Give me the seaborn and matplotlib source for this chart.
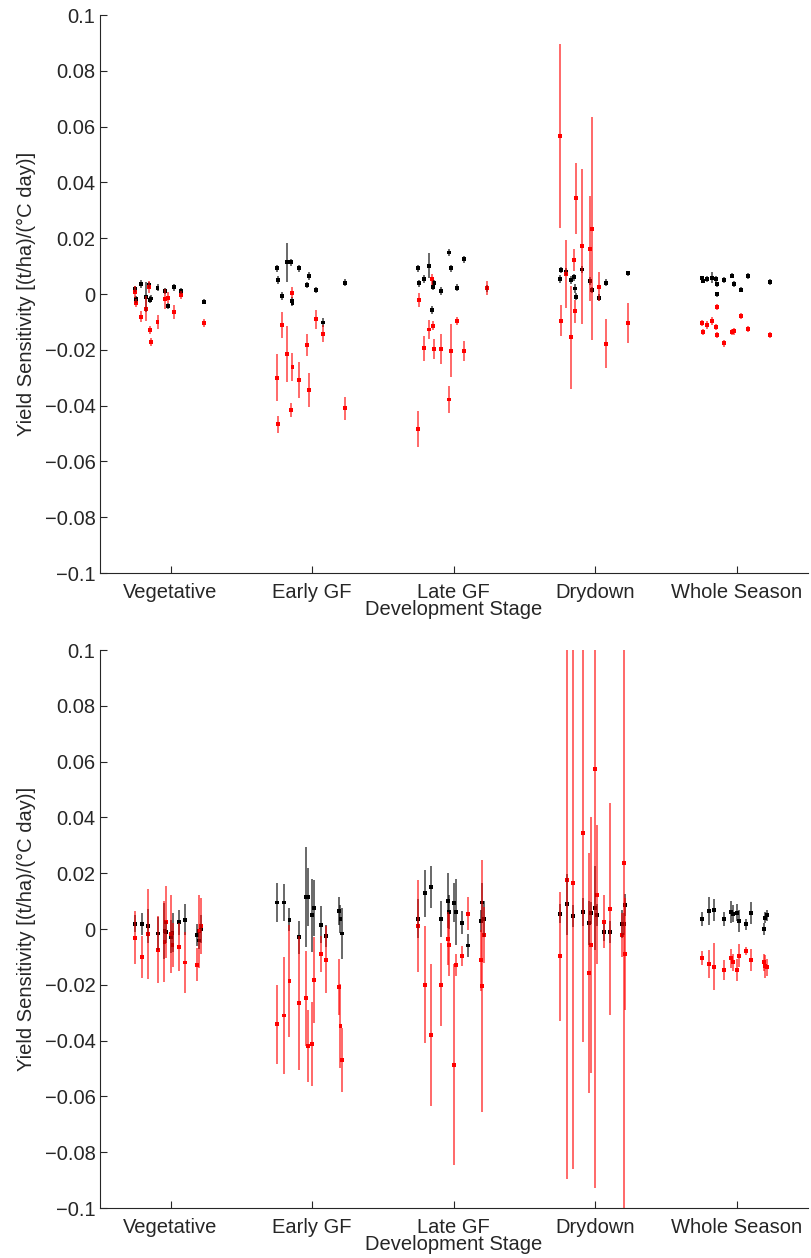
import numpy as np
import pandas as pd
import seaborn as sns
import matplotlib.pyplot as plt

stages = ['Vegetative', 'Early GF', 'Late GF', 'Drydown', 'Whole Season']

# position of each model inside a stage (fraction of the stage spacing)
top_offsets = [-0.25, -0.243, -0.21, -0.175, -0.151, -0.144, -0.139, -0.092, -0.036, -0.021, 0.026, 0.075, 0.233]
bottom_offsets = [-0.25, -0.2, -0.16, -0.09, -0.043, -0.031, 0.0, 0.014, 0.061, 0.101, 0.19, 0.2, 0.212]

# ---- top panel ----
top_black = [
    [0.0018, -0.0019, 0.0035, -0.0010, 0.0032, -0.0020, -0.0016, 0.0023, 0.0011, -0.0043, 0.0024, 0.0011, -0.0027],
    [0.0092, 0.0050, -0.0007, 0.0114, 0.0114, -0.0025, -0.0031, 0.0092, 0.0032, 0.0065, 0.0014, -0.0102, 0.0041],
    [0.0092, 0.0038, 0.0054, 0.0102, -0.0057, 0.0026, 0.0038, 0.0011, 0.0149, 0.0092, 0.0023, 0.0125, 0.0020],
    [0.0053, 0.0086, 0.0080, 0.0050, 0.0060, 0.0020, -0.0010, 0.0088, 0.0047, 0.0014, -0.0013, 0.0041, 0.0074],
    [0.0056, 0.0048, 0.0055, 0.0059, 0.0055, -0.0001, 0.0035, 0.0051, 0.0066, 0.0037, 0.0016, 0.0065, 0.0044],
]
top_black_err = [
    [0.0012, 0.0012, 0.0015, 0.0055, 0.0012, 0.0012, 0.0012, 0.0012, 0.0012, 0.0012, 0.0012, 0.0012, 0.0010],
    [0.0013, 0.0015, 0.0015, 0.0070, 0.0012, 0.0015, 0.0012, 0.0012, 0.0012, 0.0013, 0.0012, 0.0015, 0.0013],
    [0.0013, 0.0013, 0.0013, 0.0045, 0.0015, 0.0013, 0.0013, 0.0013, 0.0012, 0.0013, 0.0013, 0.0012, 0.0012],
    [0.0015, 0.0012, 0.0012, 0.0015, 0.0012, 0.0015, 0.0012, 0.0012, 0.0015, 0.0012, 0.0012, 0.0012, 0.0010],
    [0.0010, 0.0010, 0.0010, 0.0020, 0.0010, 0.0010, 0.0010, 0.0010, 0.0010, 0.0010, 0.0010, 0.0010, 0.0010],
]
top_red = [
    [0.0008, -0.0033, -0.0081, -0.0052, 0.0024, -0.0129, -0.0171, -0.0100, -0.0018, -0.0013, -0.0065, -0.0004, -0.0103],
    [-0.0300, -0.0467, -0.0110, -0.0215, -0.0416, 0.0005, -0.0260, -0.0308, -0.0183, -0.0344, -0.0091, -0.0142, -0.0410],
    [-0.0485, -0.0022, -0.0195, -0.0127, 0.0053, -0.0113, -0.0197, -0.0197, -0.0378, -0.0203, -0.0096, -0.0204, 0.0022],
    [0.0566, -0.0095, 0.0072, -0.0155, 0.0122, -0.0062, 0.0343, 0.0172, 0.0162, 0.0234, 0.0026, -0.0178, -0.0103],
    [-0.0104, -0.0137, -0.0112, -0.0097, -0.0119, -0.0047, -0.0146, -0.0177, -0.0135, -0.0133, -0.0079, -0.0125, -0.0146],
]
top_red_err = [
    [0.0022, 0.0015, 0.0020, 0.0045, 0.0022, 0.0015, 0.0015, 0.0025, 0.0035, 0.0020, 0.0025, 0.0015, 0.0015],
    [0.0085, 0.0030, 0.0047, 0.0100, 0.0025, 0.0020, 0.0050, 0.0063, 0.0040, 0.0060, 0.0035, 0.0030, 0.0040],
    [0.0065, 0.0025, 0.0045, 0.0035, 0.0020, 0.0015, 0.0035, 0.0055, 0.0050, 0.0095, 0.0015, 0.0037, 0.0025],
    [0.0330, 0.0055, 0.0123, 0.0185, 0.0040, 0.0040, 0.0127, 0.0278, 0.0188, 0.0400, 0.0052, 0.0087, 0.0072],
    [0.0010, 0.0010, 0.0015, 0.0015, 0.0010, 0.0010, 0.0010, 0.0012, 0.0010, 0.0012, 0.0012, 0.0010, 0.0010],
]

# ---- bottom panel ----
bottom_black = [
    [0.0019, 0.0018, 0.0011, -0.0016, -0.0006, -0.0010, -0.0027, -0.0014, 0.0025, 0.0034, -0.0022, -0.0041, 0.0001],
    [0.0095, 0.0095, 0.0034, -0.0030, 0.0115, 0.0115, 0.0049, 0.0076, 0.0016, -0.0025, 0.0066, 0.0035, -0.0016],
    [0.0037, 0.0128, 0.0150, 0.0037, 0.0102, 0.0061, 0.0094, 0.0061, 0.0023, -0.0059, 0.0028, 0.0095, 0.0036],
    [0.0055, 0.0089, 0.0047, 0.0061, 0.0022, 0.0057, 0.0076, 0.0050, -0.0012, -0.0010, 0.0019, 0.0017, 0.0086],
    [0.0037, 0.0066, 0.0069, 0.0037, 0.0061, 0.0055, 0.0058, 0.0029, 0.0017, 0.0058, 0.0000, 0.0040, 0.0049],
]
bottom_black_err = [
    [0.0030, 0.0040, 0.0060, 0.0060, 0.0100, 0.0040, 0.0060, 0.0070, 0.0045, 0.0055, 0.0040, 0.0030, 0.0050],
    [0.0070, 0.0065, 0.0040, 0.0060, 0.0180, 0.0105, 0.0130, 0.0100, 0.0065, 0.0040, 0.0050, 0.0050, 0.0090],
    [0.0070, 0.0085, 0.0075, 0.0065, 0.0100, 0.0060, 0.0070, 0.0120, 0.0040, 0.0040, 0.0040, 0.0070, 0.0065],
    [0.0035, 0.0110, 0.0040, 0.0050, 0.0080, 0.0040, 0.0150, 0.0040, 0.0030, 0.0040, 0.0050, 0.0040, 0.0040],
    [0.0025, 0.0050, 0.0040, 0.0025, 0.0040, 0.0030, 0.0030, 0.0040, 0.0020, 0.0040, 0.0020, 0.0020, 0.0020],
]
bottom_red = [
    [-0.0031, -0.0099, -0.0018, -0.0074, -0.0046, 0.0025, -0.0018, -0.0057, -0.0064, -0.0120, -0.0128, -0.0008, 0.0011],
    [-0.0342, -0.0310, -0.0186, -0.0264, -0.0248, -0.0420, -0.0412, -0.0183, -0.0090, -0.0110, -0.0207, -0.0347, -0.0470],
    [0.0011, -0.0200, -0.0380, -0.0199, -0.0035, -0.0057, -0.0487, -0.0128, -0.0096, 0.0055, -0.0112, -0.0204, -0.0022],
    [-0.0098, 0.0175, 0.0165, 0.0345, -0.0157, -0.0057, 0.0572, 0.0123, 0.0026, 0.0072, -0.0022, 0.0237, -0.0089],
    [-0.0105, -0.0125, -0.0135, -0.0147, -0.0105, -0.0119, -0.0147, -0.0095, -0.0078, -0.0112, -0.0119, -0.0134, -0.0137],
]
bottom_red_err = [
    [0.0095, 0.0075, 0.0160, 0.0120, 0.0145, 0.0130, 0.0140, 0.0080, 0.0085, 0.0110, 0.0060, 0.0130, 0.0100],
    [0.0140, 0.0210, 0.0200, 0.0240, 0.0170, 0.0130, 0.0150, 0.0155, 0.0065, 0.0120, 0.0100, 0.0150, 0.0115],
    [0.0165, 0.0210, 0.0255, 0.0150, 0.0095, 0.0110, 0.0360, 0.0040, 0.0035, 0.0060, 0.0110, 0.0450, 0.0100],
    [0.0230, 0.1070, 0.1025, 0.0750, 0.0430, 0.0460, 0.1500, 0.0250, 0.0095, 0.0380, 0.0080, 0.1300, 0.0200],
    [0.0025, 0.0050, 0.0085, 0.0035, 0.0035, 0.0030, 0.0040, 0.0040, 0.0015, 0.0040, 0.0030, 0.0040, 0.0030],
]

yticks = [0.1, 0.08, 0.06, 0.04, 0.02, 0, -0.02, -0.04, -0.06, -0.08, -0.1]


def build_frame(offsets, black, black_err, red, red_err):
    rows = []
    for series, vals, errs in [('black', black, black_err), ('red', red, red_err)]:
        for i in range(len(stages)):
            for j, off in enumerate(offsets):
                rows.append({'series': series, 'x': i + 1 + off,
                             'value': vals[i][j], 'err': errs[i][j]})
    return pd.DataFrame(rows)


sns.set_style('ticks')
plt.rcParams['font.family'] = ['Liberation Sans', 'DejaVu Sans']
plt.rcParams['xtick.direction'] = 'in'
plt.rcParams['ytick.direction'] = 'in'

fig = plt.figure(figsize=(8.11, 12.58), dpi=100)
ax_top = fig.add_axes([0.123, 0.5445, 0.873, 0.4435])
ax_bot = fig.add_axes([0.123, 0.0397, 0.873, 0.4436])

panels = [
    (ax_top, build_frame(top_offsets, top_black, top_black_err, top_red, top_red_err)),
    (ax_bot, build_frame(bottom_offsets, bottom_black, bottom_black_err, bottom_red, bottom_red_err)),
]

colors = {'black': 'black', 'red': 'red'}
fs = 14.5
for ax, df in panels:
    for series in ['black', 'red']:
        d = df[df['series'] == series]
        ax.vlines(d['x'], d['value'] - d['err'], d['value'] + d['err'],
                  color=colors[series], lw=1.1, alpha=0.75)
    sns.scatterplot(data=df, x='x', y='value', hue='series', palette=colors,
                    marker='s', s=8, edgecolor='none', legend=False, ax=ax)
    ax.set_xlim(0.5, 5.5)
    ax.set_ylim(-0.1, 0.1)
    ax.set_xticks(range(1, 6))
    ax.set_xticklabels(stages)
    ax.set_yticks(yticks)
    ax.set_yticklabels([f'{t:g}'.replace('-', '\u2212') for t in yticks])
    ax.tick_params(labelsize=fs, length=5, width=0.8)
    ax.tick_params(axis='x', pad=7)
    ax.tick_params(axis='y', pad=3)
    ax.set_xlabel('Development Stage', fontsize=fs, labelpad=-1)
    ax.set_ylabel('Yield Sensitivity [(t/ha)/(\u00b0C day)]', fontsize=fs, labelpad=6)
    sns.despine(ax=ax)

fig.savefig('out.png', dpi=100)
